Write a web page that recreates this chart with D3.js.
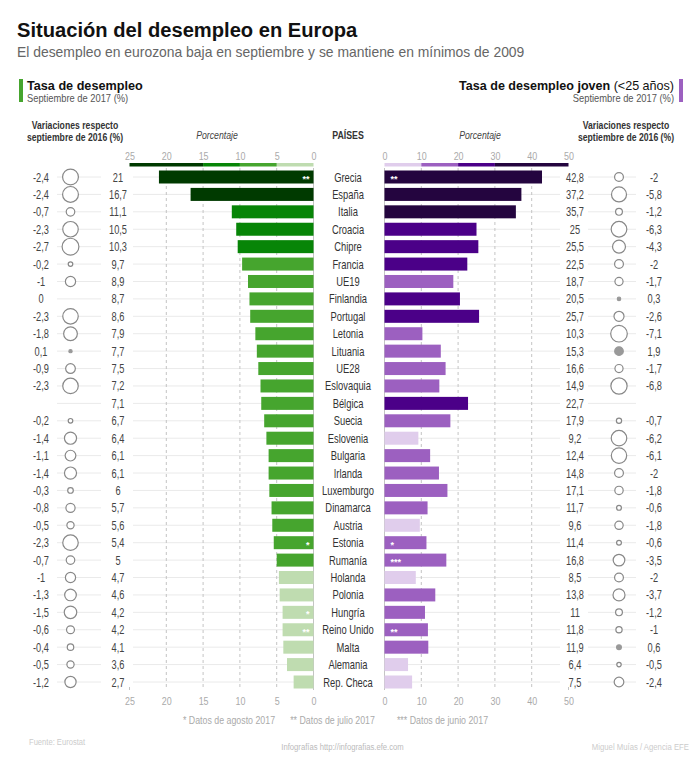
<!DOCTYPE html>
<html>
<head>
<meta charset="utf-8">
<script src="https://cdn.jsdelivr.net/npm/d3@7/dist/d3.min.js"></script>
<style>
  body { margin: 0; background: #fff; }
  text { font-family: "Liberation Sans", Arial, sans-serif; }
</style>
</head>
<body>
<div id="chart"></div>
<script>
const paises = ['Grecia', 'España', 'Italia', 'Croacia', 'Chipre', 'Francia', 'UE19', 'Finlandia', 'Portugal', 'Letonia',
  'Lituania', 'UE28', 'Eslovaquia', 'Bélgica', 'Suecia', 'Eslovenia', 'Bulgaria', 'Irlanda', 'Luxemburgo', 'Dinamarca',
  'Austria', 'Estonia', 'Rumanía', 'Holanda', 'Polonia', 'Hungría', 'Reino Unido', 'Malta', 'Alemania', 'Rep. Checa'];
const tasa = [21, 16.7, 11.1, 10.5, 10.3, 9.7, 8.9, 8.7, 8.6, 7.9, 7.7, 7.5, 7.2, 7.1, 6.7, 6.4, 6.1, 6.1, 6, 5.7, 5.6, 5.4, 5, 4.7, 4.6, 4.2, 4.2, 4.1, 3.6, 2.7];
const varTasa = [-2.4, -2.4, -0.7, -2.3, -2.7, -0.2, -1, 0, -2.3, -1.8, 0.1, -0.9, -2.3, null, -0.2, -1.4, -1.1, -1.4, -0.3, -0.8, -0.5, -2.3, -0.7, -1, -1.3, -1.5, -0.6, -0.4, -0.5, -1.2];
const joven = [42.8, 37.2, 35.7, 25, 25.5, 22.5, 18.7, 20.5, 25.7, 10.3, 15.3, 16.6, 14.9, 22.7, 17.9, 9.2, 12.4, 14.8, 17.1, 11.7, 9.6, 11.4, 16.8, 8.5, 13.8, 11, 11.8, 11.9, 6.4, 7.5];
const varJoven = [-2, -5.8, -1.2, -6.3, -4.3, -2, -1.7, 0.3, -2.6, -7.1, 1.9, -1.7, -6.8, null, -0.7, -6.2, -6.1, -2, -1.8, -0.6, -1.8, -0.6, -3.5, -2, -3.7, -1.2, -1, 0.6, -0.5, -2.4];
const notasTasa = ['**', '', '', '', '', '', '', '', '', '', '', '', '', '', '', '', '', '', '', '', '', '*', '', '', '', '*', '**', '', '', ''];
const notasJoven = ['**', '', '', '', '', '', '', '', '', '', '', '', '', '', '', '', '', '', '', '', '', '*', '***', '', '', '', '**', '', '', ''];
const ticksTasa = [25, 20, 15, 10, 5, 0];
const ticksJoven = [0, 10, 20, 30, 40, 50];
const coloresTasa = ['#bfdcb0', '#46a52e', '#078507', '#003a00'];
const coloresJoven = ['#e0cdec', '#9c60c0', '#4b0088', '#24053f'];
const cortesTasa = [5, 10, 15];
const cortesJoven = [10, 20, 30];
const notas = ['* Datos de agosto 2017', '** Datos de julio 2017', '*** Datos de junio 2017'];

const width = 700, height = 760;
const svg = d3.select('#chart').append('svg').attr('width', width).attr('height', height);

const y = d3.scalePoint().domain(paises).range([177, 682]);
const barH = 13;
const xIzq = d3.scaleLinear().domain([0, 25]).range([313.5, 129.5]);
const xDer = d3.scaleLinear().domain([0, 50]).range([384.5, 568.5]);
const colorIzq = d3.scaleThreshold().domain(cortesTasa).range(coloresTasa);
const colorDer = d3.scaleThreshold().domain(cortesJoven).range(coloresJoven);
const rIzq = d3.scaleSqrt().domain([0, 2.7]).range([0, 8.4]);
const rDer = d3.scaleSqrt().domain([0, 7.1]).range([0, 8.3]);

const coma = v => String(v).replace('.', ',');

// No hay fuente estrecha instalada: se comprime en horizontal con sx
function texto(x, yy, s, size, color, anchor, opts = {}) {
  return svg.append('text')
    .attr('transform', `translate(${x},${yy}) scale(${opts.sx || 1},1)`)
    .text(s)
    .attr('font-size', size).attr('fill', color).attr('text-anchor', anchor || 'start')
    .attr('font-weight', opts.weight || null).attr('font-style', opts.style || null);
}

// Cabecera
texto(17, 37, 'Situación del desempleo en Europa', 20.15, '#111', 'start', { weight: 'bold' });
texto(17, 57, 'El desempleo en eurozona baja en septiembre y se mantiene en mínimos de 2009', 13.9, '#666');

svg.append('rect').attr('x', 19).attr('y', 79).attr('width', 4).attr('height', 23).attr('fill', coloresTasa[1]);
texto(27, 90, 'Tasa de desempleo', 12.65, '#111', 'start', { weight: 'bold' });
texto(27, 102, 'Septiembre de 2017 (%)', 11, '#555', 'start', { sx: 0.85 });

svg.append('rect').attr('x', 679).attr('y', 79).attr('width', 4).attr('height', 23).attr('fill', coloresJoven[1]);
const tituloDer = texto(674, 90, '', 12.55, '#111', 'end');
tituloDer.append('tspan').attr('font-weight', 'bold').text('Tasa de desempleo joven');
tituloDer.append('tspan').text(' (<25 años)');
texto(674, 102, 'Septiembre de 2017 (%)', 11, '#555', 'end', { sx: 0.85 });

[[75, 'Variaciones respecto', 129], [75, 'septiembre de 2016 (%)', 141], [626, 'Variaciones respecto', 129], [626, 'septiembre de 2016 (%)', 141]]
  .forEach(d => texto(d[0], d[2], d[1], 10, '#333', 'middle', { weight: 'bold', sx: 0.866 }));
texto(217, 139, 'Porcentaje', 10, '#444', 'middle', { style: 'italic', sx: 0.875 });
texto(480, 139, 'Porcentaje', 10, '#444', 'middle', { style: 'italic', sx: 0.875 });
texto(348, 139, 'PAÍSES', 10, '#333', 'middle', { weight: 'bold', sx: 0.88 });

// Filas de fondo
const filas = svg.append('g').attr('stroke', '#eaeaea').attr('stroke-width', 1);
paises.forEach(p => {
  filas.append('line').attr('x1', 133).attr('x2', xIzq(0)).attr('y1', y(p)).attr('y2', y(p));
  filas.append('line').attr('x1', xDer(0)).attr('x2', 560).attr('y1', y(p)).attr('y2', y(p));
  filas.append('line').attr('x1', 57).attr('x2', 101).attr('y1', y(p)).attr('y2', y(p));
  filas.append('line').attr('x1', 588).attr('x2', 636).attr('y1', y(p)).attr('y2', y(p));
});

// Rejilla: el extremo exterior solo lleva una marca corta abajo
function rejilla(x, ticks, extremo) {
  svg.append('g').selectAll('line').data(ticks).join('line')
    .attr('x1', d => x(d)).attr('x2', d => x(d))
    .attr('y1', d => d === extremo ? 687 : 168).attr('y2', 690)
    .attr('stroke', '#c4c4c4').attr('stroke-width', 1)
    .attr('stroke-dasharray', d => d === 0 || d === extremo ? null : '3,3');
}
rejilla(xIzq, ticksTasa, 25);
rejilla(xDer, ticksJoven, 50);

// Barras
svg.append('g').selectAll('rect').data(paises).join('rect')
  .attr('x', (d, i) => xIzq(tasa[i])).attr('y', d => y(d) - barH / 2)
  .attr('width', (d, i) => xIzq(0) - xIzq(tasa[i])).attr('height', barH)
  .attr('fill', (d, i) => colorIzq(tasa[i]));
svg.append('g').selectAll('rect').data(paises).join('rect')
  .attr('x', xDer(0)).attr('y', d => y(d) - barH / 2)
  .attr('width', (d, i) => xDer(joven[i]) - xDer(0)).attr('height', barH)
  .attr('fill', (d, i) => colorDer(joven[i]));

// Leyenda de color sobre cada eje
function leyenda(x, cortes, colores, dominio) {
  const lim = [0, ...cortes, dominio];
  colores.forEach((c, i) => {
    svg.append('rect').attr('x', Math.min(x(lim[i]), x(lim[i + 1]))).attr('y', 163)
      .attr('width', Math.abs(x(lim[i + 1]) - x(lim[i]))).attr('height', 3.5).attr('fill', c);
  });
}
leyenda(xIzq, cortesTasa, coloresTasa, 25);
leyenda(xDer, cortesJoven, coloresJoven, 50);

// Ejes
function eje(x, ticks, yy) {
  const g = svg.append('g').attr('transform', `translate(0,${yy})`)
    .call(d3.axisTop(x).tickValues(ticks).tickSize(0).tickPadding(0));
  g.select('.domain').remove();
  g.selectAll('text').attr('fill', '#aaa').attr('font-size', 10.5)
    .attr('font-family', null).attr('transform', 'scale(0.85,1)');
}
eje(xIzq, ticksTasa, 160);
eje(xDer, ticksJoven, 160);
eje(xIzq, ticksTasa, 705);
eje(xDer, ticksJoven, 705);

// Asteriscos
paises.forEach((p, i) => {
  if (notasTasa[i]) texto(xIzq(0) - 4, y(p) + 5, notasTasa[i], 9, '#fff', 'end', { weight: 'bold' });
  if (notasJoven[i]) texto(xDer(0) + 6, y(p) + 5, notasJoven[i], 9, '#fff', 'start', { weight: 'bold' });
});

// Círculos de variación
function circulos(valores, cx, r) {
  svg.append('g').selectAll('circle').data(paises).join('circle')
    .filter((d, i) => valores[i] !== null && valores[i] !== 0)
    .attr('cx', cx).attr('cy', d => y(d))
    .attr('r', d => r(Math.abs(valores[paises.indexOf(d)])))
    .attr('fill', d => valores[paises.indexOf(d)] > 0 ? '#999' : '#fff')
    .attr('stroke', d => valores[paises.indexOf(d)] > 0 ? '#999' : '#888')
    .attr('stroke-width', 1.2);
}
circulos(varTasa, 70.5, rIzq);
circulos(varJoven, 619, rDer);

// Valores y nombres
paises.forEach((p, i) => {
  const yy = y(p) + 4.5;
  if (varTasa[i] !== null) texto(41, yy, coma(varTasa[i]), 12.5, '#444', 'middle', { sx: 0.74 });
  texto(118, yy, coma(tasa[i]), 12.5, '#444', 'middle', { sx: 0.74 });
  texto(348, yy, p, 12.5, '#333', 'middle', { sx: 0.75 });
  texto(575, yy, coma(joven[i]), 12.5, '#444', 'middle', { sx: 0.74 });
  if (varJoven[i] !== null) texto(654, yy, coma(varJoven[i]), 12.5, '#444', 'middle', { sx: 0.74 });
});

// Pie
texto(229, 724, notas[0], 10.5, '#aaa', 'middle', { sx: 0.84 });
texto(332.5, 724, notas[1], 10.5, '#aaa', 'middle', { sx: 0.84 });
texto(442.5, 724, notas[2], 10.5, '#aaa', 'middle', { sx: 0.84 });
texto(29, 745, 'Fuente: Eurostat', 9.5, '#ccc', 'start', { sx: 0.8 });
texto(342.5, 750, 'Infografías http://infografias.efe.com', 9.5, '#bbb', 'middle', { sx: 0.81 });
texto(689, 750, 'Miguel Muías / Agencia EFE', 9.5, '#ccc', 'end', { sx: 0.815 });
</script>
</body>
</html>
